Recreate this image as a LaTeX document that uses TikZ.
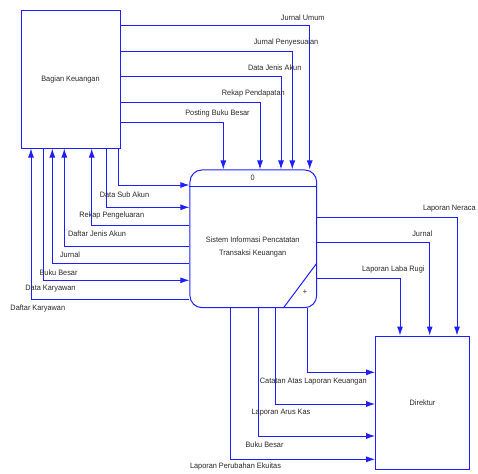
\documentclass[tikz,border=0pt]{standalone}
\usepackage{fontspec}
\setmainfont{Liberation Sans}[FakeStretch=0.94]
\usetikzlibrary{arrows.meta}
\definecolor{flowblue}{RGB}{30,30,255}
\definecolor{txt}{RGB}{40,40,40}
\begin{document}
\begin{tikzpicture}[x=1pt,y=-1pt,
  font=\fontsize{7.8}{9}\selectfont,
  box/.style={draw=flowblue, line width=1pt, inner sep=0pt, text=txt},
  flow/.style={draw=flowblue, line width=1pt, -{Latex[length=9pt,width=6pt]}},
  plain/.style={draw=flowblue, line width=1pt},
  lbl/.style={inner sep=0pt, text=txt}]
\useasboundingbox (0,0) rectangle (478,473);

% entities and process
\node[box, minimum width=99pt, minimum height=137pt] (bk) at (70.5,79.5) {Bagian Keuangan};
\node[box, minimum width=126.7pt, minimum height=137.7pt, rounded corners=12pt] (proc) at (253.3,238.8) {};
\node[box, minimum width=93.6pt, minimum height=133.3pt] (dir) at (422.5,402.7) {Direktur};

\draw[plain] (proc.west |- 0,186) -- (proc.east |- 0,186);
\node[lbl] (pid) at (252.7,177.6) {0};
\node[lbl, align=center, font=\fontsize{7.8}{13.3}\selectfont] (ptext) at (252.7,247.3) {Sistem Informasi Pencatatan\\Transaksi Keuangan};
\coordinate (d1) at (316.7,263.3);
\coordinate (d2) at (284,307.2);
\draw[plain] (d1) -- (d2);
\node[lbl] (plus) at (305,292.7) {+};

% flows from Bagian Keuangan to process (top)
\draw[flow] (bk.east |- 0,26) -| (proc.north -| 309.7,0);
\draw[flow] (bk.east |- 0,51.7) -| (proc.north -| 292.3,0);
\draw[flow] (bk.east |- 0,76.7) -| (proc.north -| 281,0);
\draw[flow] (bk.east |- 0,102.3) -| (proc.north -| 260,0);
\draw[flow] (bk.east |- 0,123) -| (proc.north -| 223.3,0);
\node[lbl] (t1) at (302.7,17.3) {Jurnal Umum};
\node[lbl] (t2) at (286,42.3) {Jurnal Penyesuaian};
\node[lbl] (t3) at (274.7,67.7) {Data Jenis Akun};
\node[lbl] (t4) at (253.3,93.3) {Rekap Pendapatan};
\node[lbl] (t5) at (217.5,113.7) {Posting Buku Besar};

% flows between Bagian Keuangan bottom and process left
\draw[flow] (bk.south -| 118.3,0) |- (proc.west |- 0,185);
\draw[flow] (bk.south -| 106,0) |- (proc.west |- 0,207.3);
\draw[flow] (proc.west |- 0,225) -| (bk.south -| 91.7,0);
\draw[flow] (proc.west |- 0,246.3) -| (bk.south -| 64.3,0);
\draw[flow] (proc.west |- 0,263.7) -| (bk.south -| 52.3,0);
\draw[flow] (bk.south -| 43.7,0) |- (proc.west |- 0,280.3);
\draw[flow] (proc.west |- 0,299.7) -| (bk.south -| 31,0);
\node[lbl] (b1) at (124.5,194.3) {Data Sub Akun};
\node[lbl] (b2) at (111.7,215.7) {Rekap Pengeluaran};
\node[lbl] (b3) at (97,233.3) {Daftar Jenis Akun};
\node[lbl] (b4) at (70,254.7) {Jurnal};
\node[lbl] (b5) at (58.5,272.3) {Buku Besar};
\node[lbl] (b6) at (50.5,288.3) {Data Karyawan};
\node[lbl] (b7) at (37.8,308.7) {Daftar Karyawan};

% flows from process right to Direktur top
\draw[flow] (proc.east |- 0,217.7) -| (dir.north -| 457,0);
\draw[flow] (proc.east |- 0,242) -| (dir.north -| 429.7,0);
\draw[flow] (proc.east |- 0,278.3) -| (dir.north -| 400,0);
\node[lbl] (r1) at (449.3,208.3) {Laporan Neraca};
\node[lbl] (r2) at (422.3,233.3) {Jurnal};
\node[lbl] (r3) at (393.3,269.3) {Laporan Laba Rugi};

% flows from process bottom to Direktur left
\draw[flow] (proc.south -| 307.3,0) |- (dir.west |- 0,372.3);
\draw[flow] (proc.south -| 275.7,0) |- (dir.west |- 0,404);
\draw[flow] (proc.south -| 258.3,0) |- (dir.west |- 0,436);
\draw[flow] (proc.south -| 230,0) |- (dir.west |- 0,459.3);
\node[lbl] (s1) at (313.3,381.7) {Catatan Atas Laporan Keuangan};
\node[lbl] (s2) at (281,412.7) {Laporan Arus Kas};
\node[lbl] (s3) at (264.5,444.7) {Buku Besar};
\node[lbl] (s4) at (235.5,466.7) {Laporan Perubahan Ekuitas};
\end{tikzpicture}
\end{document}
